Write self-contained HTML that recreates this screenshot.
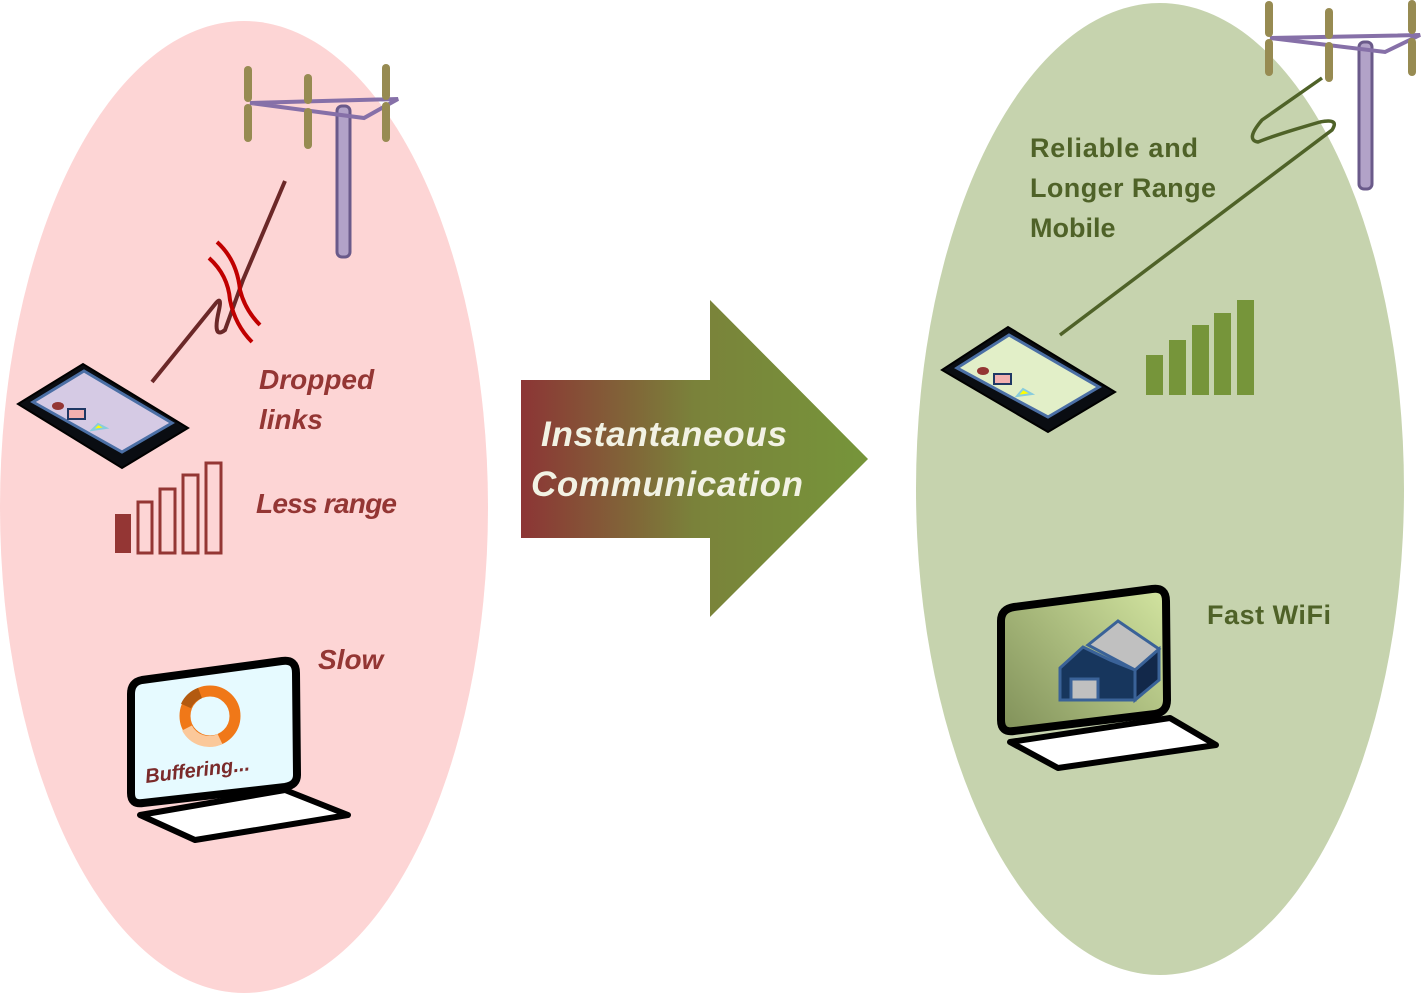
<!DOCTYPE html>
<html><head><meta charset="utf-8"><style>
html,body{margin:0;padding:0;background:#fff;width:1425px;height:993px;overflow:hidden}
svg{display:block}
.t{font-family:"Liberation Sans",sans-serif;font-weight:bold}
</style></head><body>
<svg width="1425" height="993" viewBox="0 0 1425 993" xmlns="http://www.w3.org/2000/svg">
<defs>
<linearGradient id="ag" x1="521" y1="0" x2="868" y2="0" gradientUnits="userSpaceOnUse">
<stop offset="0" stop-color="#8c3535"/><stop offset="0.5" stop-color="#7a823a"/><stop offset="1" stop-color="#76953a"/>
</linearGradient>
<linearGradient id="sg" x1="1000" y1="735" x2="1165" y2="590" gradientUnits="userSpaceOnUse">
<stop offset="0" stop-color="#7f8f58"/><stop offset="1" stop-color="#d2e4a0"/>
</linearGradient>
</defs>
<ellipse cx="244" cy="507" rx="244" ry="486" fill="#fdd5d5"/>
<ellipse cx="1160" cy="489" rx="244" ry="486" fill="#c6d3ae"/>

<!-- left tower -->
<rect x="337" y="106" width="13" height="151" rx="5" fill="#b2a2c8" stroke="#6a5a8a" stroke-width="3"/>
<path d="M250 103 L398 99 L364 118 Z" fill="none" stroke="#8670a8" stroke-width="4"/>
<g stroke="#978b52" stroke-width="8" stroke-linecap="round">
<line x1="248" y1="70" x2="248" y2="98"/><line x1="248" y1="108" x2="248" y2="138"/>
<line x1="308" y1="78" x2="308" y2="100"/><line x1="308" y1="112" x2="308" y2="145"/>
<line x1="386" y1="68" x2="386" y2="96"/><line x1="386" y1="106" x2="386" y2="138"/>
</g>
<path d="M152 382 L216 303 Q222 296 219 310 Q212 340 225 330 L243 280 L285 181" fill="none" stroke="#6b2828" stroke-width="4"/>
<path d="M217 242 Q237 260 240 290 Q245 310 260 325" fill="none" stroke="#c00000" stroke-width="4"/>
<path d="M209 258 Q228 275 230 300 Q235 325 252 342" fill="none" stroke="#c00000" stroke-width="4"/>

<!-- left phone -->
<path d="M18 404 L83 364 L188 428 L122 468 Z" fill="#0a0d12" stroke="#000" stroke-width="2"/>
<path d="M33 402 L84 371 L172 423 L122 452 Z" fill="#d5cae4" stroke="#4b6fa5" stroke-width="3"/>
<ellipse cx="58" cy="406" rx="6" ry="4" fill="#943634"/>
<rect x="68" y="409" width="17" height="10" fill="#f2b0b0" stroke="#1f3864" stroke-width="2"/>
<path d="M92 430 L106 428 L98 424 Z" fill="#ff0" stroke="#8cd" stroke-width="2"/>

<!-- left bars -->
<rect x="115" y="514" width="16" height="39" fill="#943634"/>
<g fill="none" stroke="#943634" stroke-width="3">
<rect x="138" y="502" width="14" height="51"/><rect x="160" y="489" width="15" height="64"/>
<rect x="183" y="475" width="15" height="78"/><rect x="206" y="463" width="15" height="90"/>
</g>

<g class="t" fill="#943634" font-style="italic" font-size="28">
<text x="259" y="389">Dropped</text><text x="259" y="429">links</text>
<text x="256" y="513" textLength="141">Less range</text><text x="318" y="669">Slow</text>
</g>

<!-- left laptop -->
<path d="M140 815 L285 790 L348 815 L195 840 Z" fill="#fff" stroke="#000" stroke-width="6" stroke-linejoin="round"/>
<path d="M142 680 L282 661 Q296 659 296 673 L297 775 Q297 785 285 787 L143 803 Q131 805 131 793 L131 694 Q131 682 142 680 Z" fill="#e6faff" stroke="#000" stroke-width="8"/>
<circle cx="210" cy="716" r="25" fill="none" stroke="#f07818" stroke-width="11"/>
<path d="M187 728 A25 25 0 0 0 220 739" fill="none" stroke="#fbc89a" stroke-width="11"/>
<path d="M186 706 A25 25 0 0 1 200 693" fill="none" stroke="#b35a10" stroke-width="11"/>
<text class="t" x="146" y="783" font-size="20" font-style="italic" fill="#7a2a2a" transform="rotate(-7 146 783)">Buffering...</text>

<!-- arrow -->
<path d="M521 380 L710 380 L710 300 L868 459 L710 617 L710 538 L521 538 Z" fill="url(#ag)"/>
<g class="t" fill="#f2f2e4" font-style="italic" font-size="35">
<text x="541" y="446" textLength="246">Instantaneous</text><text x="531" y="496" textLength="272">Communication</text>
</g>

<!-- right tower -->
<rect x="1359" y="42" width="13" height="147" rx="5" fill="#b2a2c8" stroke="#6a5a8a" stroke-width="3"/>
<path d="M1270 38 L1420 35 L1385 52 Z" fill="none" stroke="#8670a8" stroke-width="4"/>
<g stroke="#978b52" stroke-width="8" stroke-linecap="round">
<line x1="1269" y1="5" x2="1269" y2="33"/><line x1="1269" y1="43" x2="1269" y2="72"/>
<line x1="1329" y1="12" x2="1329" y2="35"/><line x1="1329" y1="46" x2="1329" y2="78"/>
<line x1="1412" y1="4" x2="1412" y2="30"/><line x1="1412" y1="42" x2="1412" y2="72"/>
</g>
<path d="M1060 335 L1332 130 Q1340 118 1320 122 Q1275 135 1258 142 Q1245 140 1262 120 L1322 78" fill="none" stroke="#4f6228" stroke-width="3.5"/>

<!-- right phone -->
<path d="M942 370 L1008 327 L1115 392 L1048 432 Z" fill="#0a0d12" stroke="#000" stroke-width="2"/>
<path d="M957 368 L1009 335 L1099 387 L1048 417 Z" fill="#e2efc8" stroke="#4b6fa5" stroke-width="3"/>
<ellipse cx="983" cy="371" rx="6" ry="4" fill="#943634"/>
<rect x="994" y="374" width="17" height="10" fill="#f2b0b0" stroke="#1f3864" stroke-width="2"/>
<path d="M1017 396 L1032 394 L1023 389 Z" fill="#ff0" stroke="#8cd" stroke-width="2"/>

<g fill="#76953a">
<rect x="1146" y="355" width="17" height="40"/><rect x="1169" y="340" width="17" height="55"/>
<rect x="1192" y="325" width="17" height="70"/><rect x="1214" y="313" width="17" height="82"/>
<rect x="1237" y="300" width="17" height="95"/>
</g>

<g class="t" fill="#4f6228" font-size="27">
<text x="1030" y="157" textLength="168">Reliable and</text><text x="1030" y="197" textLength="186">Longer Range</text>
<text x="1030" y="237">Mobile</text><text x="1207" y="624" textLength="124">Fast WiFi</text>
</g>

<!-- right laptop -->
<path d="M1010 742 L1170 718 L1216 745 L1058 768 Z" fill="#fff" stroke="#000" stroke-width="6" stroke-linejoin="round"/>
<path d="M1014 607 L1152 589 Q1166 587 1166 601 L1167 700 Q1167 712 1155 714 L1014 731 Q1001 733 1001 720 L1001 621 Q1001 609 1014 607 Z" fill="url(#sg)" stroke="#000" stroke-width="8"/>
<path d="M1135 670 L1159 649 L1159 680 L1135 700 Z" fill="#12284a" stroke="#3a6298" stroke-width="3"/>
<path d="M1060 668 L1083 647 L1110 660 L1135 670 L1135 700 L1060 700 Z" fill="#17365d" stroke="#3a6298" stroke-width="3"/>
<path d="M1088 645 L1118 621 L1159 649 L1135 670 Z" fill="#c0c0c0" stroke="#3a6298" stroke-width="3"/>
<rect x="1071" y="679" width="27" height="21" fill="#c0c0c0" stroke="#3a6298" stroke-width="3"/>
</svg>
</body></html>
